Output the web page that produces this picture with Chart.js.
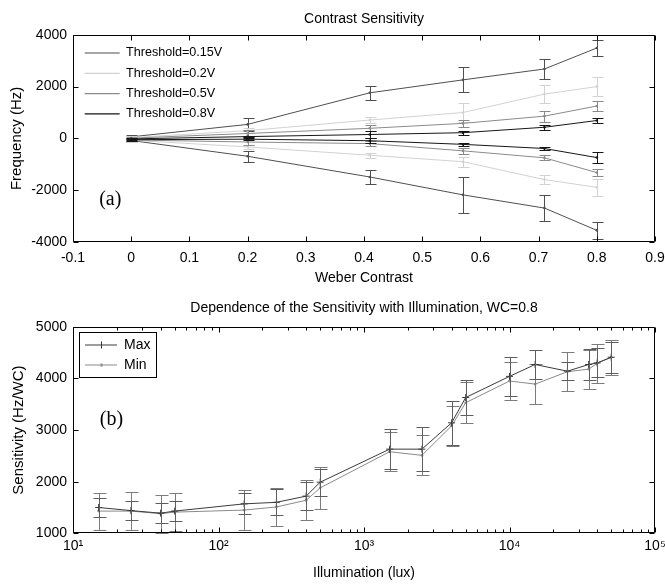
<!DOCTYPE html>
<html>
<head>
<meta charset="utf-8">
<title>Contrast Sensitivity</title>
<script src="https://cdn.jsdelivr.net/npm/chart.js@4.4.1/dist/chart.umd.min.js"></script>
<style>
  html, body { margin: 0; padding: 0; background: #fff; }
  canvas { display: block; }
</style>
</head>
<body>
<canvas id="chartA" width="665" height="290"></canvas>
<canvas id="chartB" width="665" height="295"></canvas>
<script>
// ---- (a) frequency vs Weber contrast ----
const weber = [0, 0.2, 0.41, 0.57, 0.71, 0.8];
const thresholds = ['Threshold=0.15V', 'Threshold=0.2V', 'Threshold=0.5V', 'Threshold=0.8V'];

const up015 = [60, 540, 1760, 2260, 2680, 3490];
const up015Err = [60, 260, 260, 480, 390, 300];
const lo015 = [-80, -690, -1490, -2180, -2690, -3550];
const lo015Err = [60, 220, 260, 700, 500, 320];

const up02 = [30, 300, 710, 1000, 1710, 2000];
const up02Err = [60, 100, 100, 350, 350, 360];
const lo02 = [-70, -330, -650, -900, -1590, -1890];
const lo02Err = [60, 80, 100, 190, 160, 340];

const up05 = [10, 190, 390, 580, 860, 1250];
const up05Err = [50, 130, 120, 130, 210, 210];
const lo05 = [-60, -140, -200, -480, -750, -1320];
const lo05Err = [50, 100, 110, 110, 100, 130];

const up08 = [-20, 70, 150, 220, 430, 690];
const up08Err = [40, 30, 130, 85, 95, 90];
const lo08 = [-50, -30, -90, -230, -390, -740];
const lo08Err = [40, 50, 100, 65, 45, 210];

const weberTicks = [-0.1, 0, 0.1, 0.2, 0.3, 0.4, 0.5, 0.6, 0.7, 0.8, 0.9];
const weberTickLabels = ['-0.1', '0', '0.1', '0.2', '0.3', '0.4', '0.5', '0.6', '0.7', '0.8', '0.9'];
const freqTicks = [-4000, -2000, 0, 2000, 4000];

// ---- (b) sensitivity vs illumination ----
const lux = [15, 25, 40, 50, 150, 250, 400, 500, 1500, 2500, 4000, 5000, 10000, 15000, 25000, 35000, 40000, 50000];
const sensMax = [1500, 1440, 1390, 1430, 1570, 1600, 1720, 1990, 2630, 2630, 3140, 3630, 4040, 4270, 4140, 4270, 4300, 4410];
const sensMaxErr = [190, 190, 200, 190, 205, 250, 270, 260, 390, 420, 420, 340, 380, 290, 180, 300, 280, 300];
const sensMin = [1430, 1430, 1380, 1410, 1450, 1510, 1640, 1880, 2580, 2510, 3080, 3530, 3950, 3890, 4130, 4180, 4290, 4410];
const sensMinErr = [360, 370, 370, 370, 380, 370, 390, 400, 380, 390, 390, 400, 370, 380, 380, 380, 370, 340];

const luxTicks = [10, 100, 1000, 10000, 100000];
const luxTickLabels = ['10¹', '10²', '10³', '10⁴', '10⁵'];
const sensTicks = [1000, 2000, 3000, 4000, 5000];

Chart.defaults.font.family = "'Liberation Sans', Arial, sans-serif";
Chart.defaults.font.size = 14;
Chart.defaults.color = '#000';

// error bars, drawn right after their own line so the layering matches
const errorBars = {
  id: 'errorBars',
  afterDatasetDraw(chart, args, o) {
    const ds = chart.data.datasets[args.index];
    if (!ds.err) return;
    const {ctx} = chart;
    const xs = chart.scales.x, ys = chart.scales.y;
    ctx.save();
    ctx.strokeStyle = ds.errColor || ds.borderColor;
    ctx.lineWidth = 1;
    ctx.beginPath();
    ds.data.forEach((p, i) => {
      const x = Math.round(xs.getPixelForValue(p.x)) + 0.5;
      const y1 = Math.round(ys.getPixelForValue(p.y + ds.err[i])) + 0.5;
      const y2 = Math.round(ys.getPixelForValue(p.y - ds.err[i])) + 0.5;
      ctx.moveTo(x, y1); ctx.lineTo(x, y2);
      ctx.moveTo(x - o.cap, y1); ctx.lineTo(x + o.cap + 1, y1);
      ctx.moveTo(x - o.cap, y2); ctx.lineTo(x + o.cap + 1, y2);
    });
    ctx.stroke();
    ctx.restore();
  }
};

// matlab style box with inward ticks, legend frame and panel letter
const frame = {
  id: 'frame',
  afterDatasetsDraw(chart, args, o) {
    const {ctx, chartArea: a, scales} = chart;
    const L = Math.round(a.left) + 0.5, R = Math.round(a.right) - 0.5;
    const T = Math.round(a.top) + 0.5, B = Math.round(a.bottom) - 0.5;
    ctx.save();
    ctx.strokeStyle = '#000';
    ctx.lineWidth = 1;
    ctx.beginPath();
    ctx.rect(L, T, R - L, B - T);
    const xTick = (v, len) => {
      const x = Math.round(scales.x.getPixelForValue(v)) + 0.5;
      ctx.moveTo(x, B); ctx.lineTo(x, B - len);
      ctx.moveTo(x, T); ctx.lineTo(x, T + len);
    };
    const yTick = (v, len) => {
      const y = Math.round(scales.y.getPixelForValue(v)) + 0.5;
      ctx.moveTo(L, y); ctx.lineTo(L + len, y);
      ctx.moveTo(R, y); ctx.lineTo(R - len, y);
    };
    scales.x.ticks.forEach(t => xTick(t.value, o.tick));
    (o.minorX || []).forEach(v => xTick(v, o.minor));
    scales.y.ticks.forEach(t => yTick(t.value, o.tick));
    ctx.stroke();
    if (o.legendBox) {
      const b = o.legendBox;
      ctx.strokeRect(b[0] + 0.5, b[1] + 0.5, b[2], b[3]);
    }
    if (o.label) {
      ctx.fillStyle = '#000';
      ctx.font = '20px "Liberation Serif", "Times New Roman", serif';
      ctx.textBaseline = 'middle';
      ctx.textAlign = 'left';
      ctx.fillText(o.label.text, scales.x.getPixelForValue(o.label.x), scales.y.getPixelForValue(o.label.y));
    }
    ctx.restore();
  }
};

// title centred over the axes, legend pinned inside the axes
const placement = {
  id: 'placement',
  afterLayout(chart, args, o) {
    const a = chart.chartArea;
    if (chart.titleBlock) {
      chart.titleBlock.left = a.left;
      chart.titleBlock.right = a.right;
    }
    const lg = chart.legend;
    if (lg && o.legend) {
      const w = lg.width, h = lg.height;
      lg.left = o.legend[0]; lg.top = o.legend[1];
      lg.right = lg.left + w; lg.bottom = lg.top + h;
    }
  }
};

function makeSet(xs, ys, err, label, color, order, extra) {
  return Object.assign({
    label, order, err,
    data: xs.map((x, i) => ({x, y: ys[i]})),
    borderColor: color,
    backgroundColor: color,
    borderWidth: 1,
    pointRadius: 1.3,
    pointBorderWidth: 0,
    tension: 0
  }, extra || {});
}

function fixedAxis(size, horizontal) {
  return axis => {
    if (horizontal) axis.height = size; else axis.width = size;
    axis.paddingLeft = 0; axis.paddingRight = 0;
    axis.paddingTop = 0; axis.paddingBottom = 0;
  };
}

const c015 = '#4f4f4f', c02 = '#d2d2d2', c05 = '#8a8a8a', c08 = '#161616';

new Chart(document.getElementById('chartA'), {
  type: 'line',
  data: {
    datasets: [
      makeSet(weber, up015, up015Err, thresholds[0], c015, 3),
      makeSet(weber, up02, up02Err, thresholds[1], c02, 2),
      makeSet(weber, up05, up05Err, thresholds[2], c05, 1),
      makeSet(weber, up08, up08Err, thresholds[3], c08, 0),
      makeSet(weber, lo015, lo015Err, '', c015, 3),
      makeSet(weber, lo02, lo02Err, '', c02, 2),
      makeSet(weber, lo05, lo05Err, '', c05, 1),
      makeSet(weber, lo08, lo08Err, '', c08, 0)
    ]
  },
  plugins: [errorBars, frame, placement],
  options: {
    responsive: false,
    animation: false,
    events: [],
    layout: { padding: { left: 0, right: 10, top: 0, bottom: 0 } },
    scales: {
      x: {
        type: 'linear', min: -0.1, max: 0.9,
        grid: { display: false, drawTicks: false },
        border: { display: false },
        afterBuildTicks: axis => { axis.ticks = weberTicks.map(v => ({value: v})); },
        afterFit: fixedAxis(48, true),
        ticks: { padding: 8, maxRotation: 0, autoSkip: false, callback: (v, i) => weberTickLabels[i] },
        title: { display: true, text: 'Weber Contrast', font: { size: 14 }, padding: { top: 0, bottom: 3 } }
      },
      y: {
        min: -4000, max: 4000,
        grid: { display: false, drawTicks: false },
        border: { display: false },
        afterBuildTicks: axis => { axis.ticks = freqTicks.map(v => ({value: v})); },
        afterFit: fixedAxis(73, false),
        ticks: { padding: 6, callback: v => String(v) },
        title: { display: true, text: 'Frequency (Hz)', font: { size: 15 }, padding: { top: 8, bottom: 0 } }
      }
    },
    plugins: {
      title: { display: true, text: 'Contrast Sensitivity', font: { size: 14, weight: 'normal' }, color: '#000', padding: { top: 11, bottom: 7 } },
      legend: {
        position: 'chartArea', align: 'start',
        labels: {
          usePointStyle: true, pointStyle: 'line', pointStyleWidth: 35,
          padding: 7.7, color: '#000', font: { size: 12.6 },
          generateLabels: chart => Chart.defaults.plugins.legend.labels.generateLabels(chart)
            .map(l => Object.assign(l, { lineWidth: 1.2, strokeStyle: chart.data.datasets[l.datasetIndex].borderColor })),
          filter: item => !!item.text,
          sort: (a, b) => a.datasetIndex - b.datasetIndex
        }
      },
      tooltip: { enabled: false },
      errorBars: { cap: 5 },
      frame: { tick: 5, label: { text: '(a)', x: -0.055, y: -2350 } },
      placement: { legend: [77, 39] }
    }
  }
});

// legend glyphs for (b): line with its marker
function legendIcon(color, marker) {
  const c = document.createElement('canvas');
  c.width = 32; c.height = 9;
  const g = c.getContext('2d');
  g.strokeStyle = color; g.fillStyle = color; g.lineWidth = 1;
  g.beginPath();
  g.moveTo(0, 4.5); g.lineTo(32, 4.5);
  if (marker === 'cross') { g.moveTo(16.5, 1); g.lineTo(16.5, 8); }
  g.stroke();
  if (marker === 'dot') { g.beginPath(); g.arc(16.5, 4.5, 1.6, 0, Math.PI * 2); g.fill(); }
  return c;
}

const cMax = '#3a3a3a', cMin = '#8a8a8a';
const icons = [legendIcon(cMax, 'cross'), legendIcon(cMin, 'dot')];

const minorLux = [];
luxTicks.slice(0, -1).forEach(d => { for (let k = 2; k < 10; k++) minorLux.push(k * d); });

new Chart(document.getElementById('chartB'), {
  type: 'line',
  data: {
    datasets: [
      makeSet(lux, sensMax, sensMaxErr, 'Max', cMax, 0,
        { pointStyle: 'cross', pointRadius: 3.5, pointBorderWidth: 1, pointBorderColor: cMax, errColor: '#5e5e5e' }),
      makeSet(lux, sensMin, sensMinErr, 'Min', cMin, 1,
        { pointStyle: 'circle', pointRadius: 1.4, errColor: '#7c7c7c' })
    ]
  },
  plugins: [errorBars, frame, placement],
  options: {
    responsive: false,
    animation: false,
    events: [],
    layout: { padding: { left: 0, right: 10, top: 0, bottom: 0 } },
    scales: {
      x: {
        type: 'logarithmic', min: 10, max: 100000,
        grid: { display: false, drawTicks: false },
        border: { display: false },
        afterBuildTicks: axis => { axis.ticks = luxTicks.map(v => ({value: v})); },
        afterFit: fixedAxis(51.7, true),
        ticks: { padding: 4, maxRotation: 0, autoSkip: false, callback: (v, i) => luxTickLabels[i] },
        title: { display: true, text: 'Illumination (lux)', font: { size: 14 }, padding: { top: 0, bottom: 3 } }
      },
      y: {
        min: 1000, max: 5000,
        grid: { display: false, drawTicks: false },
        border: { display: false },
        afterBuildTicks: axis => { axis.ticks = sensTicks.map(v => ({value: v})); },
        afterFit: fixedAxis(73, false),
        ticks: { padding: 6, callback: v => String(v) },
        title: { display: true, text: 'Sensitivity (Hz/WC)', font: { size: 15 }, padding: { top: 10, bottom: 0 } }
      }
    },
    plugins: {
      title: { display: true, text: 'Dependence of the Sensitivity with Illumination, WC=0.8', font: { size: 14, weight: 'normal' }, color: '#000', padding: { top: 10, bottom: 10 } },
      legend: {
        position: 'chartArea', align: 'start',
        labels: {
          usePointStyle: true, pointStyleWidth: 32,
          padding: 6, color: '#000', font: { size: 14 },
          generateLabels: chart => Chart.defaults.plugins.legend.labels.generateLabels(chart)
            .map(l => Object.assign(l, { pointStyle: icons[l.datasetIndex] }))
        }
      },
      tooltip: { enabled: false },
      errorBars: { cap: 6 },
      frame: { tick: 5, minor: 3, minorX: minorLux, legendBox: [79, 42, 77, 45], label: { text: '(b)', x: 15.3, y: 3200 } },
      placement: { legend: [79, 42] }
    }
  }
});
</script>
</body>
</html>
